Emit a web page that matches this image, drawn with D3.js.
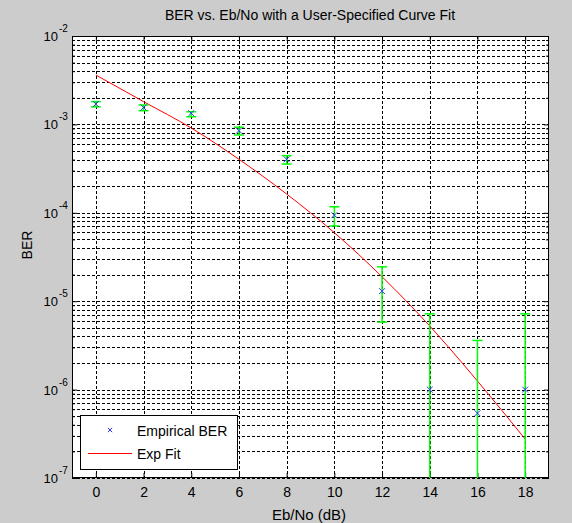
<!DOCTYPE html>
<html>
<head>
<meta charset="utf-8">
<script src="https://cdn.jsdelivr.net/npm/d3@7"></script>
<style>
  body { margin: 0; background: #cccccc; }
  svg { display: block; font-family: "Liberation Sans", Arial, sans-serif; }
</style>
</head>
<body>
<script>
// Eb/No points (dB) and the measured BER with its confidence interval
var ebno = [0, 2, 4, 6, 8, 10, 12, 14, 16, 18];
var berEmp = [1.70e-3, 1.55e-3, 1.34e-3, 8.5e-4, 4.03e-4, 9.4e-5, 1.30e-5, 1.0e-6, 5.4e-7, 1.0e-6];
var ciLow = [1.58e-3, 1.43e-3, 1.22e-3, 7.6e-4, 3.56e-4, 7.1e-5, 5.8e-6, 2.5e-8, 1.4e-8, 2.5e-8];
var ciHigh = [1.81e-3, 1.66e-3, 1.39e-3, 9.3e-4, 4.43e-4, 1.17e-4, 2.45e-5, 7.2e-6, 3.6e-6, 7.2e-6];
// exponential fit evaluated at the same Eb/No points
var berFit = [3.62e-3, 1.81e-3, 9.1e-4, 4.03e-4, 1.63e-4, 5.96e-5, 1.89e-5, 5.24e-6, 1.25e-6, 2.76e-7];

var xTicks = [0, 2, 4, 6, 8, 10, 12, 14, 16, 18];
var decades = [-7, -6, -5, -4, -3, -2];

var W = 572, H = 523;
var pLeft = 72, pRight = 549, pTop = 36, pBottom = 478;

var svg = d3.select("body").append("svg")
    .attr("width", W)
    .attr("height", H);

var x = d3.scaleLinear().domain([-1, 19]).range([pLeft, pRight]);
var y = d3.scaleLog().domain([1e-7, 1e-2]).range([pBottom, pTop]);

// minor log ticks 2..9 in every decade
var minor = [];
decades.slice(0, -1).forEach(function(e) {
    for (var k = 2; k <= 9; k++) minor.push(k * Math.pow(10, e));
});
var major = decades.map(function(e) { return Math.pow(10, e); });

svg.append("defs").append("clipPath").attr("id", "plotclip")
  .append("rect")
    .attr("x", pLeft).attr("y", pTop)
    .attr("width", pRight - pLeft).attr("height", pBottom - pTop);

svg.append("rect")
    .attr("x", pLeft).attr("y", pTop)
    .attr("width", pRight - pLeft).attr("height", pBottom - pTop)
    .attr("fill", "white");

// dashed grid
var grid = svg.append("g")
    .attr("stroke", "#000")
    .attr("stroke-width", 1)
    .attr("stroke-dasharray", "3,2");

grid.selectAll("line.h")
    .data(major.concat(minor))
    .enter().append("line")
    .attr("class", "h")
    .attr("x1", pLeft).attr("x2", pRight)
    .attr("y1", function(d) { return Math.round(y(d)) + 0.5; })
    .attr("y2", function(d) { return Math.round(y(d)) + 0.5; });

grid.selectAll("line.v")
    .data(xTicks)
    .enter().append("line")
    .attr("class", "v")
    .attr("y1", pTop).attr("y2", pBottom)
    .attr("x1", function(d) { return Math.round(x(d)) + 0.5; })
    .attr("x2", function(d) { return Math.round(x(d)) + 0.5; });

// axes with inward ticks
var gx = svg.append("g")
    .attr("transform", "translate(0," + pBottom + ")")
    .call(d3.axisBottom(x).tickValues(xTicks).tickSizeInner(-5).tickSizeOuter(0).tickPadding(9));
var gxTop = svg.append("g")
    .attr("transform", "translate(0," + pTop + ")")
    .call(d3.axisTop(x).tickValues(xTicks).tickSizeInner(-5).tickSizeOuter(0).tickFormat(""));
var gy = svg.append("g")
    .attr("transform", "translate(" + pLeft + ",0)")
    .call(d3.axisLeft(y).tickValues(major).tickSizeInner(-5).tickSizeOuter(0).tickFormat(""));
var gyMinor = svg.append("g")
    .attr("transform", "translate(" + pLeft + ",0)")
    .call(d3.axisLeft(y).tickValues(minor).tickSizeInner(-3).tickSizeOuter(0).tickFormat(""));
var gyR = svg.append("g")
    .attr("transform", "translate(" + pRight + ",0)")
    .call(d3.axisRight(y).tickValues(major).tickSizeInner(-5).tickSizeOuter(0).tickFormat(""));
var gyRMinor = svg.append("g")
    .attr("transform", "translate(" + pRight + ",0)")
    .call(d3.axisRight(y).tickValues(minor).tickSizeInner(-3).tickSizeOuter(0).tickFormat(""));

[gx, gxTop, gy, gyMinor, gyR, gyRMinor].forEach(function(g) {
    g.select(".domain").remove();
    g.selectAll(".tick line").attr("stroke", "#000");
});
gx.selectAll(".tick text")
    .attr("font-size", 14)
    .attr("font-family", "Liberation Sans, Arial, sans-serif")
    .attr("fill", "#000");

// y labels as 10^e
var ylab = svg.append("g").attr("font-size", 13).attr("fill", "#000");
ylab.selectAll("text.base")
    .data(decades)
    .enter().append("text")
    .attr("class", "base")
    .attr("x", 58)
    .attr("y", function(e) { return y(Math.pow(10, e)) + 5; })
    .attr("text-anchor", "end")
    .text("10");
ylab.selectAll("text.exp")
    .data(decades)
    .enter().append("text")
    .attr("class", "exp")
    .attr("x", 59)
    .attr("y", function(e) { return y(Math.pow(10, e)) - 4; })
    .attr("font-size", 10)
    .text(function(e) { return "-" + Math.abs(e); });

// plot box
svg.append("rect")
    .attr("x", pLeft + 0.5).attr("y", pTop + 0.5)
    .attr("width", pRight - pLeft - 1).attr("height", pBottom - pTop - 1)
    .attr("fill", "none")
    .attr("stroke", "#000");

var plot = svg.append("g").attr("clip-path", "url(#plotclip)");

// fitted curve
var fitLine = d3.line()
    .x(function(d, i) { return x(ebno[i]); })
    .y(function(d) { return y(d); })
    .curve(d3.curveMonotoneX);
plot.append("path")
    .datum(berFit)
    .attr("d", fitLine)
    .attr("fill", "none")
    .attr("stroke", "#ff0000")
    .attr("stroke-width", 1);

// error bars
var eb = plot.selectAll("g.err")
    .data(ebno)
    .enter().append("g")
    .attr("class", "err")
    .attr("stroke", "#00ff00")
    .attr("stroke-width", 1.5);
eb.append("line")
    .attr("x1", function(d) { return x(d); })
    .attr("x2", function(d) { return x(d); })
    .attr("y1", function(d, i) { return y(ciHigh[i]); })
    .attr("y2", function(d, i) { return y(ciLow[i]); });
eb.append("line")
    .attr("x1", function(d) { return x(d) - 5; })
    .attr("x2", function(d) { return x(d) + 5; })
    .attr("y1", function(d, i) { return y(ciHigh[i]); })
    .attr("y2", function(d, i) { return y(ciHigh[i]); });
eb.append("line")
    .attr("x1", function(d) { return x(d) - 5; })
    .attr("x2", function(d) { return x(d) + 5; })
    .attr("y1", function(d, i) { return y(ciLow[i]); })
    .attr("y2", function(d, i) { return y(ciLow[i]); });

// empirical BER markers
var cross = d3.symbol().type(d3.symbolTimes).size(24);
plot.selectAll("path.emp")
    .data(berEmp)
    .enter().append("path")
    .attr("class", "emp")
    .attr("d", cross)
    .attr("transform", function(d, i) { return "translate(" + x(ebno[i]) + "," + y(d) + ")"; })
    .attr("fill", "none")
    .attr("stroke", "#3333ff")
    .attr("stroke-width", 1);

// legend
var lg = svg.append("g");
lg.append("rect")
    .attr("x", 80.5).attr("y", 415.5)
    .attr("width", 157).attr("height", 54)
    .attr("fill", "white")
    .attr("stroke", "#000");
lg.append("path")
    .attr("d", d3.symbol().type(d3.symbolTimes).size(14))
    .attr("transform", "translate(110,430)")
    .attr("fill", "none")
    .attr("stroke", "#3333ff");
lg.append("line")
    .attr("x1", 88).attr("x2", 132)
    .attr("y1", 453.5).attr("y2", 453.5)
    .attr("stroke", "#ff0000")
    .attr("stroke-width", 1.2);
lg.append("text").attr("x", 137).attr("y", 436).attr("font-size", 14).text("Empirical BER");
lg.append("text").attr("x", 137).attr("y", 459).attr("font-size", 14).text("Exp Fit");

// titles
svg.append("text")
    .attr("x", 310).attr("y", 20)
    .attr("text-anchor", "middle")
    .attr("font-size", 14)
    .text("BER vs. Eb/No with a User-Specified Curve Fit");
svg.append("text")
    .attr("x", 309).attr("y", 520)
    .attr("text-anchor", "middle")
    .attr("font-size", 15)
    .text("Eb/No (dB)");
svg.append("text")
    .attr("transform", "translate(32,245) rotate(-90)")
    .attr("text-anchor", "middle")
    .attr("font-size", 14)
    .text("BER");
</script>
</body>
</html>
